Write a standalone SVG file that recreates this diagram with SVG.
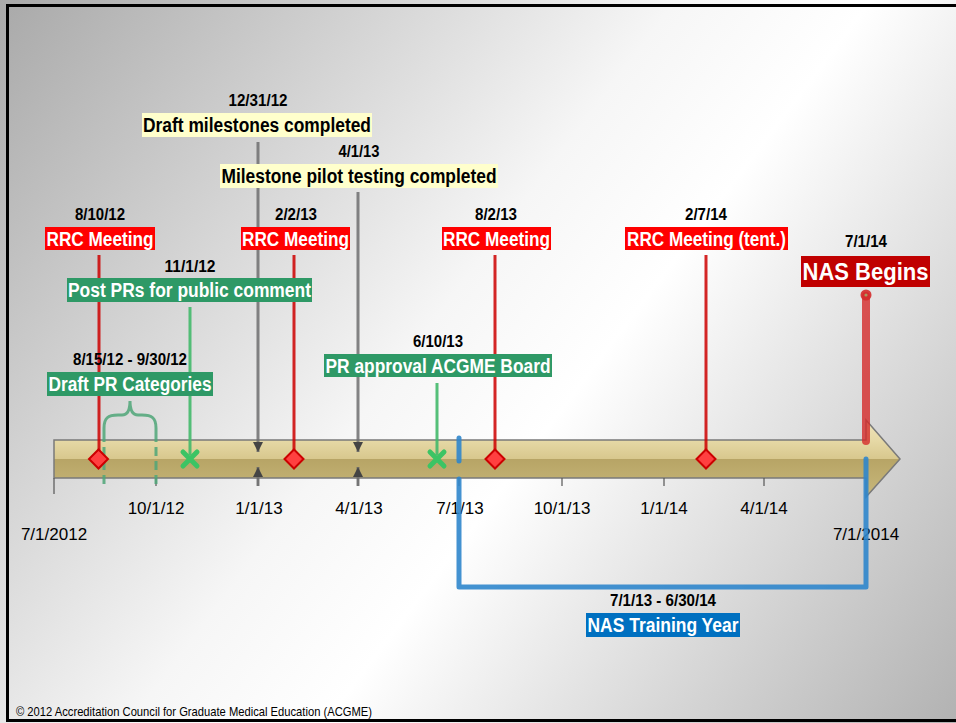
<svg xmlns="http://www.w3.org/2000/svg" width="956" height="723" viewBox="0 0 956 723">
<defs>
<linearGradient id="bg" gradientUnits="userSpaceOnUse" x1="0" y1="0" x2="956" y2="723">
<stop offset="0" stop-color="#a9a9a9"/>
<stop offset="0.45" stop-color="#f6f6f6"/>
<stop offset="0.58" stop-color="#ffffff"/>
<stop offset="1" stop-color="#b2b2b2"/>
</linearGradient>
<linearGradient id="bar" x1="0" y1="0" x2="0" y2="1">
<stop offset="0" stop-color="#efe4bb"/>
<stop offset="0.26" stop-color="#e6d9a6"/>
<stop offset="0.5" stop-color="#d8c88e"/>
<stop offset="0.5" stop-color="#b7a465"/>
<stop offset="1" stop-color="#c8b87c"/>
</linearGradient>
<marker id="ah" viewBox="0 0 10 10" refX="10" refY="5" markerWidth="3.4" markerHeight="3.4" orient="auto-start-reverse" markerUnits="strokeWidth">
<path d="M0,0 L10,5 L0,10 Z" fill="#444"/>
</marker>
</defs>
<style>
.date{font-family:"Liberation Sans",Arial,sans-serif;font-weight:bold;font-size:16px;fill:#000;text-anchor:middle}
.lbl{font-family:"Liberation Sans",Arial,sans-serif;font-weight:bold;font-size:19.5px;fill:#fff;text-anchor:middle}
.lblk{font-family:"Liberation Sans",Arial,sans-serif;font-weight:bold;font-size:19.5px;fill:#000;text-anchor:middle}
.tick{font-family:"Liberation Sans",Arial,sans-serif;font-size:17px;fill:#000;text-anchor:middle}
.red{fill:#ff0000}
.grn{fill:#2e9966}
.yel{fill:#ffffcc}
.rl{stroke:#cc0000;stroke-width:3;stroke-opacity:0.85;fill:none}
.gl{stroke:#43b96a;stroke-width:3;stroke-opacity:0.9;fill:none}
.gy{stroke:#6f6f70;stroke-width:3;stroke-opacity:0.85;fill:none}
.dia{fill:#ff4040;stroke:#cc0000;stroke-width:2}
.x{stroke:#3cc464;stroke-width:5;stroke-linecap:round;fill:none}
.bl{stroke:#2f86cc;stroke-width:5;stroke-opacity:0.9;stroke-linecap:round;stroke-linejoin:round;fill:none}
.tk{stroke:#555;stroke-width:1.2}
</style>
<rect x="0" y="0" width="956" height="723" fill="url(#bg)"/>
<rect x="7.5" y="5.5" width="955" height="715" fill="none" stroke="#000" stroke-width="3"/>

<g id="timeline">
<path d="M54,440 H866 V420 L900,459 L866,497 V478 H54 Z" fill="url(#bar)" stroke="#7a7a7a" stroke-width="1.5"/>
<line x1="54" y1="478" x2="54" y2="494" class="tk"/>
<line x1="156" y1="478" x2="156" y2="486" class="tk"/>
<line x1="258" y1="478" x2="258" y2="486" class="tk"/>
<line x1="358" y1="478" x2="358" y2="486" class="tk"/>
<line x1="459" y1="478" x2="459" y2="486" class="tk"/>
<line x1="562" y1="478" x2="562" y2="486" class="tk"/>
<line x1="664" y1="478" x2="664" y2="486" class="tk"/>
<line x1="764" y1="478" x2="764" y2="486" class="tk"/>
<text x="54" y="540" class="tick">7/1/2012</text>
<text x="156" y="514" class="tick">10/1/12</text>
<text x="259" y="514" class="tick">1/1/13</text>
<text x="359" y="514" class="tick">4/1/13</text>
<text x="460" y="514" class="tick">7/1/13</text>
<text x="562" y="514" class="tick">10/1/13</text>
<text x="664" y="514" class="tick">1/1/14</text>
<text x="764" y="514" class="tick">4/1/14</text>
<text x="866" y="540" class="tick">7/1/2014</text>
</g>

<g id="connectors">
<line x1="258" y1="142" x2="258" y2="452" class="gy" marker-end="url(#ah)"/>
<line x1="258" y1="486" x2="258" y2="467" class="gy" marker-end="url(#ah)"/>
<line x1="358" y1="192" x2="358" y2="452" class="gy" marker-end="url(#ah)"/>
<line x1="358" y1="486" x2="358" y2="467" class="gy" marker-end="url(#ah)"/>
<line x1="99" y1="255" x2="99" y2="452" class="rl"/>
<line x1="294" y1="255" x2="294" y2="452" class="rl"/>
<line x1="495" y1="255" x2="495" y2="452" class="rl"/>
<line x1="706" y1="255" x2="706" y2="452" class="rl"/>
<line x1="190" y1="307" x2="190" y2="455" class="gl"/>
<line x1="437" y1="383" x2="437" y2="455" class="gl"/>
<path d="M104,433 V428 C104,418 108,415 118,415 H122 C128,415 130,410 130,401 C130,410 132,415 138,415 H142 C152,415 156,418 156,428 V433" fill="none" stroke="#4fa678" stroke-opacity="0.85" stroke-width="3"/>
<path d="M104,433 V488 M156,433 V486" fill="none" stroke="#4fa678" stroke-opacity="0.85" stroke-width="3" stroke-dasharray="9 5"/>
<path d="M459,438 V461" class="bl"/>
<path d="M459,479 V587 H866 V459" class="bl"/>
<line x1="866" y1="296" x2="866" y2="441" stroke="#d42a2a" stroke-opacity="0.8" stroke-width="8" stroke-linecap="round"/>
<circle cx="866" cy="295" r="5.5" fill="#d42a2a" fill-opacity="0.9"/>
<circle cx="866" cy="295" r="1.6" fill="#a89a60"/>
</g>

<g id="rrc-081012">
<text x="100" y="220" class="date" textLength="50" lengthAdjust="spacingAndGlyphs">8/10/12</text>
<rect x="45" y="227" width="110" height="23" class="red"/>
<text x="100" y="245.5" class="lbl" textLength="107" lengthAdjust="spacingAndGlyphs">RRC Meeting</text>
<path d="M98.5,449.5 L108,459 L98.5,468.5 L89,459 Z" class="dia"/>
</g>
<g id="rrc-020213">
<text x="296" y="220" class="date" textLength="42" lengthAdjust="spacingAndGlyphs">2/2/13</text>
<rect x="241" y="227" width="109" height="23" class="red"/>
<text x="295.5" y="245.5" class="lbl" textLength="107" lengthAdjust="spacingAndGlyphs">RRC Meeting</text>
<path d="M294,449.5 L303.5,459 L294,468.5 L284.5,459 Z" class="dia"/>
</g>
<g id="rrc-080213">
<text x="496" y="220" class="date" textLength="42" lengthAdjust="spacingAndGlyphs">8/2/13</text>
<rect x="442" y="227" width="109" height="23" class="red"/>
<text x="496.5" y="245.5" class="lbl" textLength="107" lengthAdjust="spacingAndGlyphs">RRC Meeting</text>
<path d="M495,449.5 L504.5,459 L495,468.5 L485.5,459 Z" class="dia"/>
</g>
<g id="rrc-020714">
<text x="706" y="220" class="date" textLength="42" lengthAdjust="spacingAndGlyphs">2/7/14</text>
<rect x="625" y="227" width="163" height="23" class="red"/>
<text x="706.5" y="245.5" class="lbl" textLength="159" lengthAdjust="spacingAndGlyphs">RRC Meeting (tent.)</text>
<path d="M706,449.5 L715.5,459 L706,468.5 L696.5,459 Z" class="dia"/>
</g>

<g id="draft-milestones">
<text x="258" y="106" class="date" textLength="59" lengthAdjust="spacingAndGlyphs">12/31/12</text>
<rect x="142" y="113" width="230" height="24" class="yel"/>
<text x="257" y="131.5" class="lblk" textLength="228" lengthAdjust="spacingAndGlyphs">Draft milestones completed</text>
</g>
<g id="pilot-testing">
<text x="359" y="157" class="date" textLength="41" lengthAdjust="spacingAndGlyphs">4/1/13</text>
<rect x="220" y="164" width="278" height="24" class="yel"/>
<text x="359" y="182.5" class="lblk" textLength="275" lengthAdjust="spacingAndGlyphs">Milestone pilot testing completed</text>
</g>

<g id="post-prs">
<text x="190" y="272" class="date" textLength="51" lengthAdjust="spacingAndGlyphs">11/1/12</text>
<rect x="67" y="278" width="245" height="24" class="grn"/>
<text x="189.5" y="296.5" class="lbl" textLength="243" lengthAdjust="spacingAndGlyphs">Post PRs for public comment</text>
<path d="M183,452 L197,466 M197,452 L183,466" class="x"/>
</g>
<g id="draft-pr">
<text x="130" y="365" class="date" textLength="114" lengthAdjust="spacingAndGlyphs">8/15/12 - 9/30/12</text>
<rect x="47" y="372" width="166" height="24" class="grn"/>
<text x="130" y="390.5" class="lbl" textLength="163" lengthAdjust="spacingAndGlyphs">Draft PR Categories</text>
</g>
<g id="pr-approval">
<text x="438" y="347" class="date" textLength="50" lengthAdjust="spacingAndGlyphs">6/10/13</text>
<rect x="324" y="354" width="228" height="23" class="grn"/>
<text x="438" y="372.5" class="lbl" textLength="225" lengthAdjust="spacingAndGlyphs">PR approval ACGME Board</text>
<path d="M430,452 L444,466 M444,452 L430,466" class="x"/>
</g>

<g id="nas-begins">
<text x="866" y="247" class="date" textLength="42" lengthAdjust="spacingAndGlyphs">7/1/14</text>
<rect x="801" y="256" width="129" height="31" fill="#c00000"/>
<text x="865.5" y="280" class="lbl" style="font-size:23px" textLength="126" lengthAdjust="spacingAndGlyphs">NAS Begins</text>
</g>

<g id="nas-training-year">
<text x="663" y="606" class="date" textLength="106" lengthAdjust="spacingAndGlyphs">7/1/13 - 6/30/14</text>
<rect x="586" y="613" width="154" height="24" fill="#0070c0"/>
<text x="663" y="631.5" class="lbl" textLength="151" lengthAdjust="spacingAndGlyphs">NAS Training Year</text>
</g>

<text x="16" y="716" font-family="Liberation Sans, Arial, sans-serif" font-size="13" fill="#000" textLength="356" lengthAdjust="spacingAndGlyphs">© 2012 Accreditation Council for Graduate Medical Education (ACGME)</text>
</svg>
